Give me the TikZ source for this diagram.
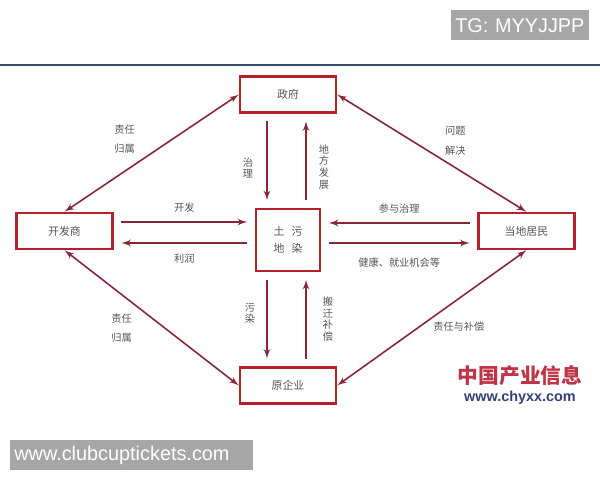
\documentclass[tikz,border=0pt]{standalone}
\usepackage{fontspec}
\setmainfont{Liberation Sans}
\newfontfamily\cjk{Noto Sans CJK SC}
\usetikzlibrary{shapes,arrows,positioning}
\definecolor{boxred}{RGB}{180,32,44}
\definecolor{linered}{RGB}{135,38,55}
\definecolor{txtgray}{RGB}{85,85,85}
\definecolor{wmgray}{RGB}{166,166,166}
\definecolor{rulebl}{RGB}{55,75,105}
\definecolor{logored}{RGB}{192,52,72}
\definecolor{logobl}{RGB}{52,62,120}
\tikzstyle{block} = [rectangle, draw=boxred, line width=1.4pt, fill=white, text=txtgray, minimum width=1.92cm, minimum height=0.72cm, inner sep=0pt, font=\cjk\fontsize{6.2}{7}\selectfont]
\tikzstyle{line} = [draw=linered, line width=0.9pt, -latex', shorten <=0.15cm, shorten >=0.15cm]
\tikzstyle{link} = [draw=linered, line width=0.9pt, latex'-latex']
\tikzstyle{lbl} = [text=txtgray, font=\cjk\fontsize{5.8}{6.6}\selectfont, align=center, inner sep=0pt]
\tikzstyle{lbl2} = [lbl, font=\cjk\fontsize{5.8}{11}\selectfont]
\tikzstyle{wm} = [fill=wmgray, text=white, anchor=north west, inner xsep=0.08cm, inner ysep=0pt, minimum height=0.6cm, align=left, font=\fontsize{11.3}{13}\selectfont]

\begin{document}
\begin{tikzpicture}
    \useasboundingbox (0,0) rectangle (12,9.6);
    \node [wm, text width=2.6cm] (tg) at (9.02,9.4) {TG: MYYJJPP};
    \draw [rulebl, line width=1.6pt] (0,8.30) -- (12,8.30);
    \node [block, minimum width=1.28cm, minimum height=1.24cm, align=center, font=\cjk\fontsize{6.2}{10}\selectfont] (land) at (5.76,4.80) {土\hspace{4pt}污\\地\hspace{4pt}染};
    \node [block, above=1.88cm of land] (gov) {政府};
    \node [block, below=1.88cm of land] (ori) {原企业};
    \node [block, left=2.82cm of land, yshift=0.18cm] (dev) {开发商};
    \node [block, right=3.12cm of land, yshift=0.18cm] (res) {当地居民};
    \path [line] ([yshift=0.18cm]dev.east) -- ([yshift=0.18cm]dev.east -| land.west) node[lbl, midway, yshift=0.28cm] {开发};
    \path [line] ([yshift=-0.24cm]dev.east -| land.west) -- ([yshift=-0.24cm]dev.east) node[lbl, midway, yshift=-0.32cm] {利润};
    \path [line] ([yshift=0.16cm]res.west) -- ([yshift=0.16cm]res.west -| land.east) node[lbl, midway, yshift=0.28cm] {参与治理};
    \path [line] ([yshift=-0.24cm]res.west -| land.east) -- ([yshift=-0.24cm]res.west) node[lbl, midway, yshift=-0.40cm] {健康、就业机会等};
    \path [line] ([xshift=-0.42cm]land.north |- gov.south) -- ([xshift=-0.42cm]land.north) node[lbl, midway, xshift=-0.38cm, yshift=-0.14cm] {治\\理};
    \path [line] ([xshift=0.36cm]land.north) -- ([xshift=0.36cm]land.north |- gov.south) node[lbl, midway, xshift=0.36cm, yshift=-0.12cm] {地\\方\\发\\展};
    \path [line] ([xshift=-0.42cm]land.south) -- ([xshift=-0.42cm]land.south |- ori.north) node[lbl, midway, xshift=-0.34cm, yshift=0.12cm] {污\\染};
    \path [line] ([xshift=0.36cm]land.south |- ori.north) -- ([xshift=0.36cm]land.south) node[lbl, midway, xshift=0.44cm] {搬\\迁\\补\\偿};
    \path [link] (dev.north) -- (gov.west) node[lbl2, midway, xshift=-0.54cm, yshift=0.28cm] {责任\\归属};
    \path [link] (dev.south) -- (ori.west) node[lbl2, midway, xshift=-0.60cm, yshift=-0.21cm] {责任\\归属};
    \path [link] (gov.east) -- (res.north) node[lbl2, midway, xshift=0.47cm, yshift=0.25cm] {问题\\解决};
    \path [link] (res.south) -- (ori.east) node[lbl, midway, xshift=0.54cm, yshift=-0.17cm] {责任与补偿};
    \node [text=logored, font=\cjk\bfseries\fontsize{11.8}{12}\selectfont, inner sep=0pt] (logo) at (10.40,2.08) {中国产业信息};
    \node [text=logobl, font=\bfseries\fontsize{8.2}{9}\selectfont, inner sep=0pt, below=0.08cm of logo] (url) {www.chyxx.com};
    \node [wm, text width=4.7cm] (site) at (0.2,0.8) {www.clubcuptickets.com};
\end{tikzpicture}
\end{document}
